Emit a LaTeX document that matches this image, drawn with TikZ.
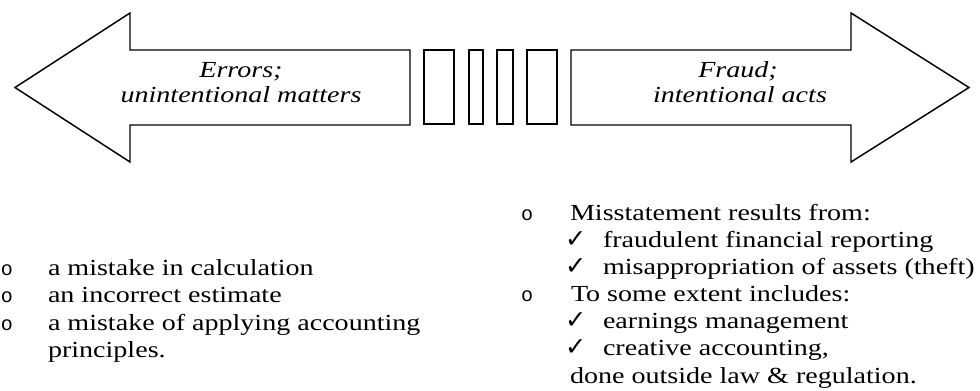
\documentclass[tikz,border=0pt]{standalone}
\usepackage{fontspec}
\setmainfont{Liberation Serif}[FakeStretch=1.22]
\newfontfamily\bulletfont{Liberation Mono}
\newfontfamily\tickfont{DejaVu Sans}
\usetikzlibrary{positioning}

\begin{document}
\begin{tikzpicture}[
  x=0.75pt, y=-0.75pt,
  every node/.style={inner sep=0pt, outer sep=0pt},
  outline/.style={draw=black, line width=1.1pt, line join=miter},
  gapbar/.style={draw=black, line width=1.5pt},
  tag/.style={font=\fontsize{17.25}{18.75}\selectfont\itshape, anchor=base},
  item/.style={font=\fontsize{17.25}{20.5}\selectfont, anchor=base west},
  bullet/.style={font=\bulletfont\fontsize{15}{20.5}\selectfont, anchor=base west},
  tick/.style={font=\tickfont\fontsize{19}{20}\selectfont, anchor=base west}
]
\useasboundingbox (0,0) rectangle (980,390);

% the two big arrows
\draw[outline] (15,87.5) -- (130,13) -- (130,50) -- (410,50) -- (410,125)
  -- (130,125) -- (130,162) -- cycle;
\draw[outline] (969,87.5) -- (851,13) -- (851,50) -- (571,50) -- (571,125)
  -- (851,125) -- (851,162) -- cycle;

% bars in the gap
\foreach \a/\b in {424/454, 469/483, 497/513, 527/557}
  \draw[gapbar] (\a,50) rectangle (\b,124);

\node[tag] (errtitle) at (241,77.5)  {Errors;};
\node[tag] (errsub)   at (241,102.5) {unintentional matters};
\node[tag] (frdtitle) at (738,77.5)  {Fraud;};
\node[tag] (frdsub)   at (740,102.5) {intentional acts};

% errors list
\node[bullet] (eb1) at (1,275.5) {o};
\node[bullet] (eb2) at (1,302.8) {o};
\node[bullet] (eb3) at (1,330.1) {o};
\node[item] (e1) at (48,275.5) {a mistake in calculation};
\node[item] (e2) at (48,302.8) {an incorrect estimate};
\node[item] (e3) at (48,330.1) {a mistake of applying accounting};
\node[item] (e4) at (48,357.4) {principles.};

% fraud list
\node[bullet] (fb1) at (521,220.5) {o};
\node[bullet] (fb2) at (521,301.5) {o};
\node[item] (f1) at (570,220.5) {Misstatement results from:};
\node[tick] (ft1) at (565,247.5) {✓};
\node[item] (f2) at (603,247.5) {fraudulent financial reporting};
\node[tick] (ft2) at (565,274.5) {✓};
\node[item] (f3) at (603,274.5) {misappropriation of assets (theft)};
\node[item] (f4) at (571,301.5) {To some extent includes:};
\node[tick] (ft3) at (565,328.5) {✓};
\node[item] (f5) at (603,328.5) {earnings management};
\node[tick] (ft4) at (565,355.5) {✓};
\node[item] (f6) at (603,355.5) {creative accounting,};
\node[item] (f7) at (570,383) {done outside law \& regulation.};
\end{tikzpicture}
\end{document}
